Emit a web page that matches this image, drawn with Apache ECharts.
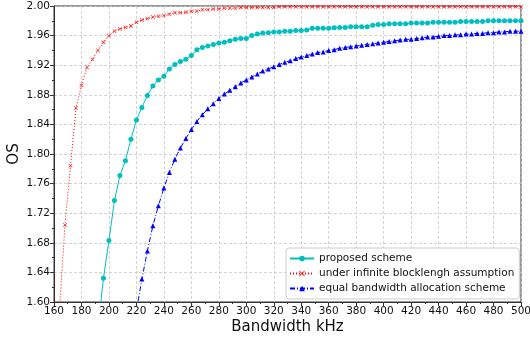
<!DOCTYPE html>
<html>
<head>
<meta charset="utf-8">
<script src="https://cdn.jsdelivr.net/npm/echarts@6/dist/echarts.min.js"></script>
<style>html,body{margin:0;padding:0;background:#fff}#c{width:530px;height:341px}</style>
</head>
<body>
<div id="c"></div>
<script>
// Bandwidth (kHz), step 4
const bandwidth = [160,164,168,172,176,180,184,188,192,196,200,204,208,212,216,220,224,228,232,236,240,244,248,252,256,260,264,268,272,276,280,284,288,292,296,300,304,308,312,316,320,324,328,332,336,340,344,348,352,356,360,364,368,372,376,380,384,388,392,396,400,404,408,412,416,420,424,428,432,436,440,444,448,452,456,460,464,468,472,476,480,484,488,492,496,500];

const proposed = [null,null,null,null,null,null,null,null,1.565,1.632,1.683,1.737,1.771,1.791,1.820,1.846,1.863,1.879,1.892,1.900,1.905,1.915,1.921,1.925,1.928,1.933,1.941,1.944,1.946,1.948,1.950,1.951,1.953,1.955,1.956,1.956,1.960,1.962,1.9635,1.964,1.965,1.965,1.966,1.966,1.967,1.967,1.9675,1.970,1.970,1.970,1.970,1.9705,1.971,1.971,1.972,1.972,1.972,1.972,1.974,1.975,1.975,1.976,1.976,1.976,1.976,1.977,1.977,1.977,1.977,1.978,1.978,1.978,1.978,1.978,1.979,1.979,1.979,1.979,1.979,1.980,1.980,1.980,1.980,1.980,1.980,1.980];

const infinite = [null,1.59,1.704,1.784,1.862,1.893,1.917,1.928,1.940,1.951,1.960,1.966,1.969,1.971,1.973,1.978,1.981,1.983,1.985,1.986,1.987,1.989,1.991,1.991,1.9915,1.993,1.993,1.995,1.995,1.996,1.996,1.997,1.997,1.997,1.998,1.998,1.998,1.998,1.998,1.998,1.998,1.999,1.999,1.999,1.999,1.999,1.999,1.999,1.999,1.999,1.999,1.999,1.999,1.999,1.999,1.999,1.999,1.999,1.999,1.999,1.999,1.999,1.999,1.999,1.999,1.999,1.999,1.999,1.999,1.999,1.999,1.999,1.999,1.999,1.999,1.999,1.999,1.999,1.999,1.999,1.999,1.999,1.999,1.999,1.999,1.999];

const equalAlloc = [null,null,null,null,null,null,null,null,null,null,null,null,null,null,null,1.588,1.631,1.669,1.703,1.730,1.754,1.775,1.793,1.808,1.821,1.833,1.844,1.853,1.861,1.868,1.875,1.881,1.886,1.891,1.896,1.900,1.904,1.908,1.912,1.915,1.918,1.921,1.924,1.926,1.929,1.931,1.933,1.935,1.937,1.938,1.940,1.941,1.943,1.944,1.945,1.946,1.947,1.948,1.949,1.950,1.951,1.952,1.953,1.954,1.955,1.955,1.956,1.957,1.958,1.958,1.959,1.960,1.960,1.961,1.961,1.962,1.962,1.963,1.963,1.964,1.964,1.965,1.965,1.966,1.966,1.966];

const seriesNames = ['proposed scheme','under infinite blocklengh assumption','equal bandwidth allocation scheme'];

const pairs = arr => bandwidth.map((x,i) => [x, arr[i]]);
const xMark = 'path://M0,1 L1,0 L5,4 L9,0 L10,1 L6,5 L10,9 L9,10 L5,6 L1,10 L0,9 L4,5 Z';
const font = 'DejaVu Sans';

const chart = echarts.init(document.getElementById('c'), null, {renderer:'canvas'});
chart.setOption({
  animation: false,
  backgroundColor: '#fff',
  grid: {left: 54, right: 9, top: 6, bottom: 39, outerBoundsMode: 'none', containLabel: false, show: true, borderColor: '#333', borderWidth: 1, backgroundColor: 'transparent'},
  xAxis: {
    type: 'value', min: 160, max: 500, interval: 20,
    name: 'Bandwidth kHz', nameLocation: 'middle', nameGap: 18, nameMoveOverlap: false,
    nameTextStyle: {fontFamily: font, fontSize: 15, color: '#111'},
    axisLine: {show: true, onZero: false, lineStyle: {color: '#333'}},
    axisTick: {show: true, inside: false, length: 4, lineStyle: {color: '#333'}},
    minorTick: {show: true, splitNumber: 2, length: 2, lineStyle: {color: '#333'}},
    axisLabel: {fontFamily: font, fontSize: 10.5, color: '#111', margin: 4},
    splitLine: {show: true, lineStyle: {color: '#c8c8c8', type: [3,2], width: 0.8}}
  },
  yAxis: {
    type: 'value', min: 1.60, max: 2.00, interval: 0.04,
    name: 'OS', nameLocation: 'middle', nameGap: 32, nameRotate: 90, nameMoveOverlap: false,
    nameTextStyle: {fontFamily: font, fontSize: 15, color: '#111'},
    axisLine: {show: true, onZero: false, lineStyle: {color: '#333'}},
    axisTick: {show: true, inside: false, length: 4, lineStyle: {color: '#333'}},
    minorTick: {show: true, splitNumber: 2, length: 2, lineStyle: {color: '#333'}},
    axisLabel: {fontFamily: font, fontSize: 10.5, color: '#111', margin: 4, formatter: v => v.toFixed(2)},
    splitLine: {show: true, lineStyle: {color: '#c8c8c8', type: [3,2], width: 0.8}}
  },
  legend: {
    orient: 'vertical', left: 286, top: 248,
    padding: [4, 5, 4, 3], itemGap: 2,
    itemWidth: 24, itemHeight: 7,
    backgroundColor: '#fff', borderColor: '#ccc', borderWidth: 1, borderRadius: 3,
    textStyle: {fontFamily: font, fontSize: 10.5, color: '#111', lineHeight: 13},
    data: seriesNames
  },
  series: [
    {
      name: seriesNames[0], type: 'line', data: pairs(proposed),
      symbol: 'circle', symbolSize: 5, clip: true,
      lineStyle: {color: '#00BFBF', width: 1},
      itemStyle: {color: '#00BFBF'}
    },
    {
      name: seriesNames[1], type: 'line', data: pairs(infinite),
      symbol: xMark, symbolSize: 4, clip: true,
      lineStyle: {color: '#FF0000', width: 1, type: [1,2]},
      itemStyle: {color: '#FF0000'}
    },
    {
      name: seriesNames[2], type: 'line', data: pairs(equalAlloc),
      symbol: 'triangle', symbolSize: 5, clip: true,
      lineStyle: {color: '#0000FF', width: 1, type: [5,2,1,2]},
      itemStyle: {color: '#0000FF'}
    }
  ]
});
</script>
</body>
</html>
